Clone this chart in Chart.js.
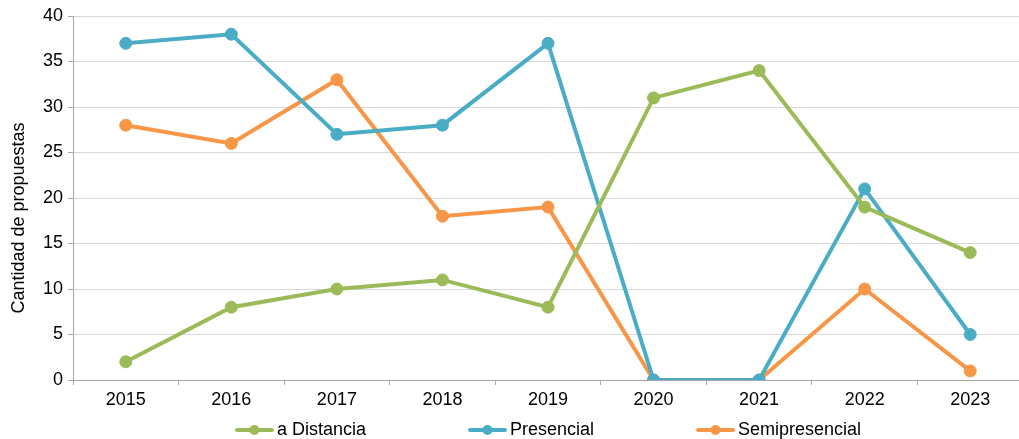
<!DOCTYPE html>
<html>
<head>
<meta charset="utf-8">
<script src="https://cdn.jsdelivr.net/npm/chart.js@4.4.0/dist/chart.umd.min.js"></script>
<style>
    html, body { margin: 0; padding: 0; background: #fff; overflow: hidden; }
    #wrap { position: relative; width: 1030px; height: 439px; }
</style>
</head>
<body>
<div id="wrap"><canvas id="canvas-propuestas"></canvas></div>
<script>
'use strict';

/* global Chart */

const anios = ['2015', '2016', '2017', '2018', '2019', '2020', '2021', '2022', '2023'];
const aDistancia = [2, 8, 10, 11, 8, 31, 34, 19, 14];
const presencial = [37, 38, 27, 28, 37, 0, 0, 21, 5];
const semipresencial = [28, 26, 33, 18, 19, 0, 0, 10, 1];
const etiquetas = ['a Distancia', 'Presencial', 'Semipresencial'];
const colores = ['#9BBB59', '#4BACC6', '#F79646'];

const fuente = 'Arial, "Liberation Sans", sans-serif';

// Légende dessinée à la main : trait + rond, comme dans Excel
const legendePlugin = {
    id: 'legendeMaison',
    afterDraw(chart) {
        const ctx = chart.ctx;
        const area = chart.chartArea;
        const marque = 39;
        const ecart = 3;
        const espace = 102;
        ctx.save();
        ctx.font = '18px ' + fuente;
        ctx.textBaseline = 'middle';
        ctx.textAlign = 'left';
        const items = chart.data.datasets.map(ds => ({
            label: ds.label,
            couleur: ds.borderColor,
            largeur: marque + ecart + ctx.measureText(ds.label).width
        }));
        let total = items.reduce((s, it) => s + it.largeur, 0) + espace * (items.length - 1);
        let x = (area.left + area.right) / 2 - total / 2;
        const y = 430;
        items.forEach(it => {
            ctx.strokeStyle = it.couleur;
            ctx.fillStyle = it.couleur;
            ctx.lineWidth = 4;
            ctx.lineCap = 'round';
            ctx.beginPath();
            ctx.moveTo(x + 2, y);
            ctx.lineTo(x + marque - 2, y);
            ctx.stroke();
            ctx.beginPath();
            ctx.arc(x + marque / 2, y, 5, 0, Math.PI * 2);
            ctx.fill();
            ctx.fillStyle = '#000';
            ctx.fillText(it.label, x + marque + ecart, y);
            x += it.largeur + espace;
        });
        ctx.restore();
    }
};

document.addEventListener('DOMContentLoaded', function () {
    const ctx = document.getElementById('canvas-propuestas').getContext('2d');
    const series = [aDistancia, presencial, semipresencial];

    const dataChartJs = {
        labels: anios,
        datasets: series.map((valeurs, i) => ({
            label: etiquetas[i],
            data: valeurs,
            borderColor: colores[i],
            backgroundColor: colores[i],
            borderWidth: 4,
            pointRadius: 6,
            pointHoverRadius: 6,
            pointBorderWidth: 1,
            tension: 0,
            fill: false
        }))
    };

    const optionsChartJs = {
        responsive: true,
        maintainAspectRatio: false,
        animation: false,
        layout: { padding: { top: 16, right: 3, bottom: 29, left: 0 } },
        plugins: {
            legend: { display: false },
            tooltip: { enabled: false }
        },
        scales: {
            x: {
                offset: true,
                grid: {
                    offset: true,
                    drawOnChartArea: false,
                    drawTicks: true,
                    tickLength: 5,
                    color: '#a6a6a6'
                },
                border: { color: '#a6a6a6', width: 1 },
                ticks: {
                    color: '#000',
                    font: { family: fuente, size: 18 },
                    padding: 4,
                    maxRotation: 0
                },
                afterFit: s => { s.height = 30; }
            },
            y: {
                min: 0,
                max: 40,
                grid: {
                    color: '#d9d9d9',
                    tickLength: 5,
                    tickColor: '#a6a6a6'
                },
                border: { color: '#a6a6a6', width: 1 },
                ticks: {
                    stepSize: 5,
                    color: '#000',
                    font: { family: fuente, size: 18 },
                    padding: 5
                },
                title: {
                    display: true,
                    // espaces en fin de texte : le titre est un peu plus bas dans l'original
                    text: 'Cantidad de propuestas        ',
                    color: '#000',
                    font: { family: fuente, size: 18 },
                    padding: { top: 8, bottom: 0 }
                },
                afterFit: s => { s.width = 73; }
            }
        }
    };

    // eslint-disable-next-line no-unused-vars
    let diagChartJs = new Chart(ctx, {
        type: 'line',
        data: dataChartJs,
        options: optionsChartJs,
        plugins: [legendePlugin]
    });
});
</script>
</body>
</html>
